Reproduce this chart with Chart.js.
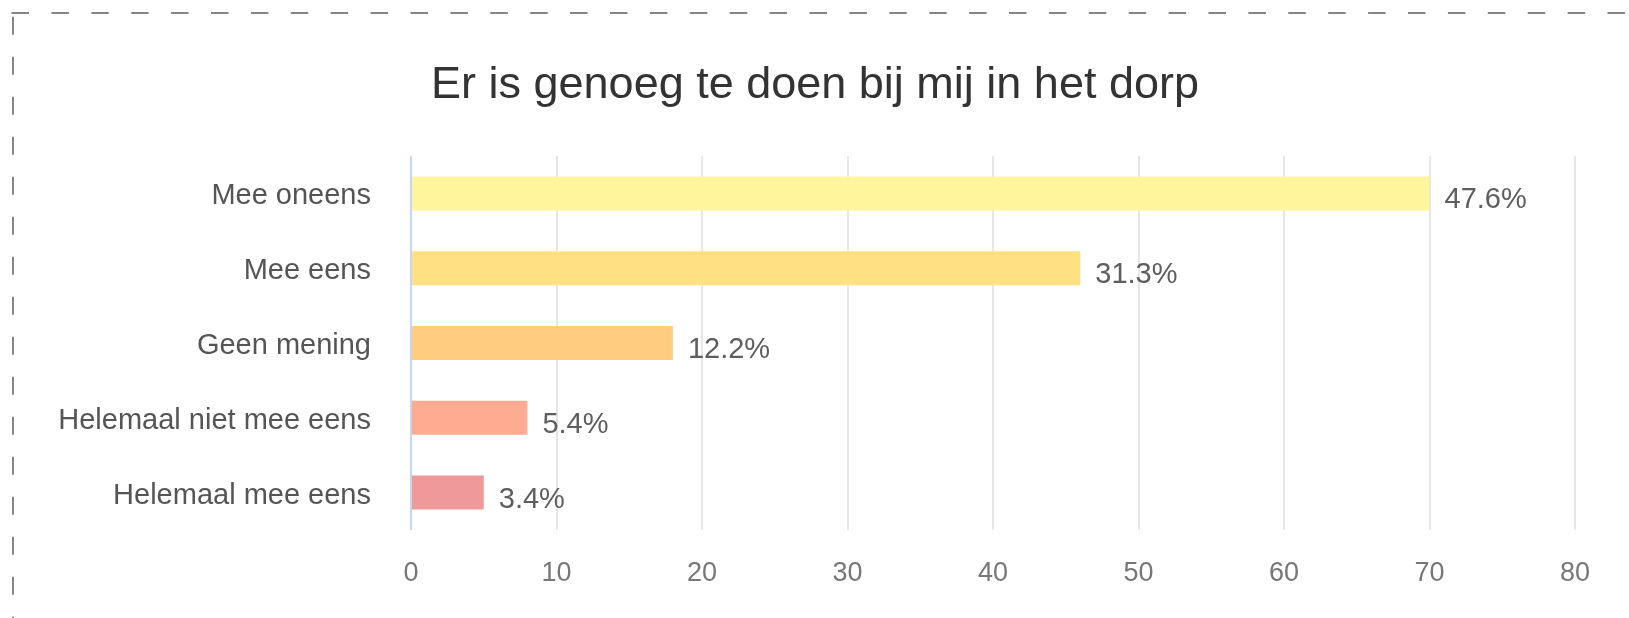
<!DOCTYPE html>
<html>
<head>
<meta charset="utf-8">
<title>Er is genoeg te doen bij mij in het dorp</title>
<script src="https://cdn.jsdelivr.net/npm/chart.js@4"></script>
<style>
    html, body { margin: 0; padding: 0; background: #fff; }
    #wrap { width: 1629px; height: 618px; position: relative; }
</style>
</head>
<body>
<div id="wrap">
    <canvas id="grafico" width="1629" height="618"></canvas>
</div>
<script>
// DATOS
const titulo = "Er is genoeg te doen bij mij in het dorp";
const categorias = ["Mee oneens", "Mee eens", "Geen mening", "Helemaal niet mee eens", "Helemaal mee eens"];
const aantallen = [70, 46, 18, 8, 5];
const percentages = ["47.6%", "31.3%", "12.2%", "5.4%", "3.4%"];
const kleuren = ["#fff59d", "#ffe082", "#ffcc80", "#ffab91", "#ef9a9a"];
const xTicks = [0, 10, 20, 30, 40, 50, 60, 70, 80];

const fuente = "'Liberation Sans', Arial, Helvetica, sans-serif";

// dashed frame (top + left) like the screenshot, plus the title
const marco = {
    id: "marco",
    beforeDraw(chart) {
        const ctx = chart.ctx;
        ctx.save();
        ctx.strokeStyle = "#858585";
        ctx.lineWidth = 2;
        ctx.setLineDash([17.5, 22.4]);
        ctx.beginPath();
        ctx.moveTo(11.5, 13);
        ctx.lineTo(chart.width, 13);
        ctx.stroke();
        ctx.setLineDash([18, 22]);
        ctx.beginPath();
        ctx.moveTo(13, 16.7);
        ctx.lineTo(13, chart.height);
        ctx.stroke();
        ctx.restore();

        ctx.save();
        ctx.font = "45px " + fuente;
        ctx.fillStyle = "#333333";
        ctx.textAlign = "center";
        ctx.textBaseline = "middle";
        ctx.fillText(titulo, 815, 86);
        ctx.restore();
    }
};

// percentage labels next to each bar
const etiquetas = {
    id: "etiquetas",
    afterDatasetsDraw(chart) {
        const ctx = chart.ctx;
        const meta = chart.getDatasetMeta(0);
        ctx.save();
        ctx.font = "29px " + fuente;
        ctx.fillStyle = "#5e5e5e";
        ctx.textAlign = "left";
        ctx.textBaseline = "middle";
        meta.data.forEach((bar, i) => {
            ctx.fillText(percentages[i], bar.x + 15, bar.y + 7);
        });
        ctx.restore();
    }
};

new Chart(document.getElementById("grafico"), {
    type: "bar",
    data: {
        labels: categorias,
        datasets: [{
            data: aantallen,
            backgroundColor: kleuren,
            borderWidth: 0,
            barPercentage: 0.455,
            categoryPercentage: 1
        }]
    },
    options: {
        indexAxis: "y",
        responsive: false,
        animation: false,
        events: [],
        layout: { padding: { left: 0, right: 54, top: 156, bottom: 0 } },
        plugins: {
            legend: { display: false },
            tooltip: { enabled: false },
            title: { display: false }
        },
        scales: {
            x: {
                min: 0,
                max: 80,
                afterBuildTicks(scale) {
                    scale.ticks = xTicks.map(v => ({ value: v }));
                },
                afterFit(scale) { scale.height = 88; },
                border: { display: false },
                grid: {
                    drawTicks: false,
                    lineWidth: 2,
                    color: c => c.tick && c.tick.value === 0 ? "#c9d5f0" : "#e6e6e6"
                },
                ticks: {
                    padding: 27,
                    color: "#777777",
                    font: { family: fuente, size: 27 }
                }
            },
            y: {
                afterFit(scale) { scale.width = 411; },
                border: { display: false },
                grid: { display: false, drawTicks: false },
                ticks: {
                    padding: 40,
                    labelOffset: 3,
                    color: "#555555",
                    font: { family: fuente, size: 29 }
                }
            }
        }
    },
    plugins: [marco, etiquetas]
});
</script>
</body>
</html>
